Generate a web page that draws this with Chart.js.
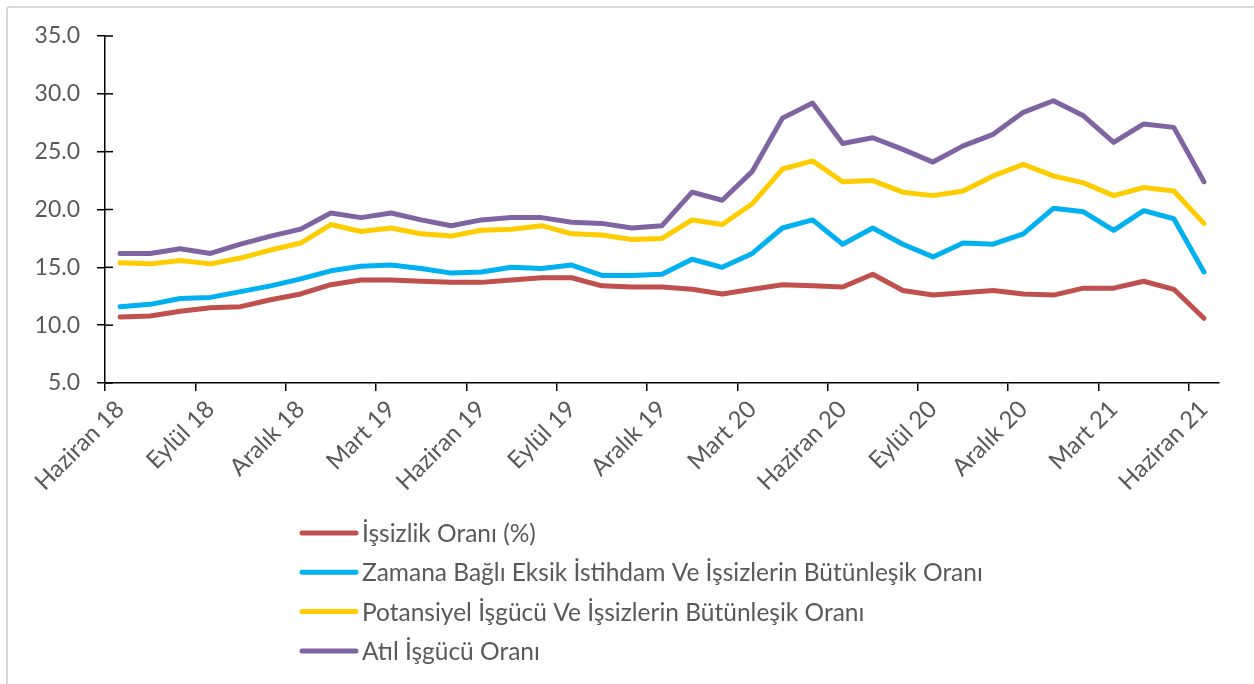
<!DOCTYPE html>
<html lang="tr">
<head>
<meta charset="utf-8">
<title>İşgücü göstergeleri</title>
<script src="https://cdn.jsdelivr.net/npm/chart.js@4.4.0/dist/chart.umd.min.js"></script>
<style>
  html, body { margin: 0; padding: 0; background: #fff; }
  #wrap { position: relative; width: 1254px; height: 684px; overflow: hidden; }
  #frame { position: absolute; left: 6px; top: 6px; width: 1300px; height: 700px;
           border: 2px solid #d9d9d9; border-radius: 3px; box-sizing: border-box; }
  canvas { position: absolute; left: 0; top: 0; }
</style>
</head>
<body>
<div id="wrap">
  <div id="frame"></div>
  <canvas id="laborChart" width="1254" height="684"></canvas>
</div>
<script>
// months shown on the x axis (only every 3rd one gets a label)
const months = [
  'Haziran 18', 'Temmuz 18', 'Ağustos 18', 'Eylül 18', 'Ekim 18', 'Kasım 18',
  'Aralık 18', 'Ocak 19', 'Şubat 19', 'Mart 19', 'Nisan 19', 'Mayıs 19',
  'Haziran 19', 'Temmuz 19', 'Ağustos 19', 'Eylül 19', 'Ekim 19', 'Kasım 19',
  'Aralık 19', 'Ocak 20', 'Şubat 20', 'Mart 20', 'Nisan 20', 'Mayıs 20',
  'Haziran 20', 'Temmuz 20', 'Ağustos 20', 'Eylül 20', 'Ekim 20', 'Kasım 20',
  'Aralık 20', 'Ocak 21', 'Şubat 21', 'Mart 21', 'Nisan 21', 'Mayıs 21',
  'Haziran 21'
];

const seriesNames = [
  'İşsizlik Oranı (%)',
  'Zamana Bağlı Eksik İstihdam Ve İşsizlerin Bütünleşik Oranı',
  'Potansiyel İşgücü Ve İşsizlerin Bütünleşik Oranı',
  'Atıl İşgücü Oranı'
];

const unemployment = [
  10.7, 10.8, 11.2, 11.5, 11.6, 12.2, 12.7, 13.5, 13.9, 13.9, 13.8, 13.7,
  13.7, 13.9, 14.1, 14.1, 13.4, 13.3, 13.3, 13.1, 12.7, 13.1, 13.5, 13.4,
  13.3, 14.4, 13.0, 12.6, 12.8, 13.0, 12.7, 12.6, 13.2, 13.2, 13.8, 13.1,
  10.6
];

const underemployment = [
  11.6, 11.8, 12.3, 12.4, 12.9, 13.4, 14.0, 14.7, 15.1, 15.2, 14.9, 14.5,
  14.6, 15.0, 14.9, 15.2, 14.3, 14.3, 14.4, 15.7, 15.0, 16.2, 18.4, 19.1,
  17.0, 18.4, 17.0, 15.9, 17.1, 17.0, 17.9, 20.1, 19.8, 18.2, 19.9, 19.2,
  14.6
];

const potentialLabor = [
  15.4, 15.3, 15.6, 15.3, 15.8, 16.5, 17.1, 18.7, 18.1, 18.4, 17.9, 17.7,
  18.2, 18.3, 18.6, 17.9, 17.8, 17.4, 17.5, 19.1, 18.7, 20.5, 23.5, 24.2,
  22.4, 22.5, 21.5, 21.2, 21.6, 22.9, 23.9, 22.9, 22.3, 21.2, 21.9, 21.6,
  18.8
];

const underutilization = [
  16.2, 16.2, 16.6, 16.2, 17.0, 17.7, 18.3, 19.7, 19.3, 19.7, 19.1, 18.6,
  19.1, 19.3, 19.3, 18.9, 18.8, 18.4, 18.6, 21.5, 20.8, 23.3, 27.9, 29.2,
  25.7, 26.2, 25.2, 24.1, 25.5, 26.5, 28.4, 29.4, 28.1, 25.8, 27.4, 27.1,
  22.4
];

const yTicks = [5, 10, 15, 20, 25, 30, 35];

const lineColors = ['#C0504D', '#00B0F0', '#FFCC00', '#8064A2'];
const textColor = '#595959';

Chart.defaults.font.family = 'Lato';

// Excel-style legend: one entry per row under the plot
const stackedLegend = {
  id: 'stackedLegend',
  afterDraw(chart) {
    const ctx = chart.ctx;
    const top = 533;
    const rowGap = 39.3;
    ctx.save();
    ctx.font = '24.5px Lato';
    ctx.textBaseline = 'middle';
    ctx.textAlign = 'left';
    chart.data.datasets.forEach((ds, i) => {
      const y = top + i * rowGap;
      ctx.strokeStyle = ds.borderColor;
      ctx.lineWidth = 5;
      ctx.lineCap = 'round';
      ctx.beginPath();
      ctx.moveTo(302, y);
      ctx.lineTo(356, y);
      ctx.stroke();
      ctx.fillStyle = textColor;
      ctx.fillText(ds.label, 362, y + 1);
    });
    ctx.restore();
  }
};

// y tick marks cross the axis in the original, draw the inner half
const crossTicks = {
  id: 'crossTicks',
  afterDraw(chart) {
    const ys = chart.scales.y;
    const ctx = chart.ctx;
    ctx.save();
    ctx.strokeStyle = '#000';
    ctx.lineWidth = 1.5;
    ys.ticks.forEach(t => {
      const py = ys.getPixelForValue(t.value);
      ctx.beginPath();
      ctx.moveTo(ys.right, py);
      ctx.lineTo(ys.right + 8, py);
      ctx.stroke();
    });
    ctx.restore();
  }
};

const datasets = [unemployment, underemployment, potentialLabor, underutilization]
  .map((values, i) => ({
    label: seriesNames[i],
    data: values,
    borderColor: lineColors[i],
    backgroundColor: lineColors[i],
    borderWidth: 5,
    borderJoinStyle: 'round',
    borderCapStyle: 'round',
    pointRadius: 0,
    tension: 0,
    fill: false
  }));

new Chart(document.getElementById('laborChart'), {
  type: 'line',
  data: { labels: months, datasets },
  options: {
    responsive: false,
    devicePixelRatio: 1,
    animation: false,
    layout: { padding: { top: 36, right: 35, bottom: 191, left: 0 } },
    plugins: {
      legend: { display: false },
      tooltip: { enabled: false }
    },
    scales: {
      x: {
        type: 'category',
        offset: true,
        afterFit: s => { s.height = 110; },
        border: { color: '#000', width: 1.5 },
        grid: {
          offset: true,
          drawOnChartArea: false,
          tickLength: 8,
          lineWidth: 1.5,
          color: c => (c.index % 3 === 0 && c.index < months.length) ? '#000' : 'rgba(0,0,0,0)'
        },
        ticks: {
          autoSkip: false,
          minRotation: 45,
          maxRotation: 45,
          padding: 4,
          color: textColor,
          font: { size: 24 },
          callback: (v, i) => (i % 3 === 0 ? months[i] : '')
        }
      },
      y: {
        min: yTicks[0],
        max: yTicks[yTicks.length - 1],
        afterFit: s => { s.width = 105; },
        afterBuildTicks: s => { s.ticks = yTicks.map(v => ({ value: v })); },
        border: { color: '#000', width: 1.5 },
        grid: {
          drawOnChartArea: false,
          tickLength: 8,
          lineWidth: 1.5,
          color: '#000'
        },
        ticks: {
          padding: 17,
          color: textColor,
          font: { size: 23 },
          callback: v => v.toFixed(1)
        }
      }
    }
  },
  plugins: [stackedLegend, crossTicks]
});
</script>
</body>
</html>
